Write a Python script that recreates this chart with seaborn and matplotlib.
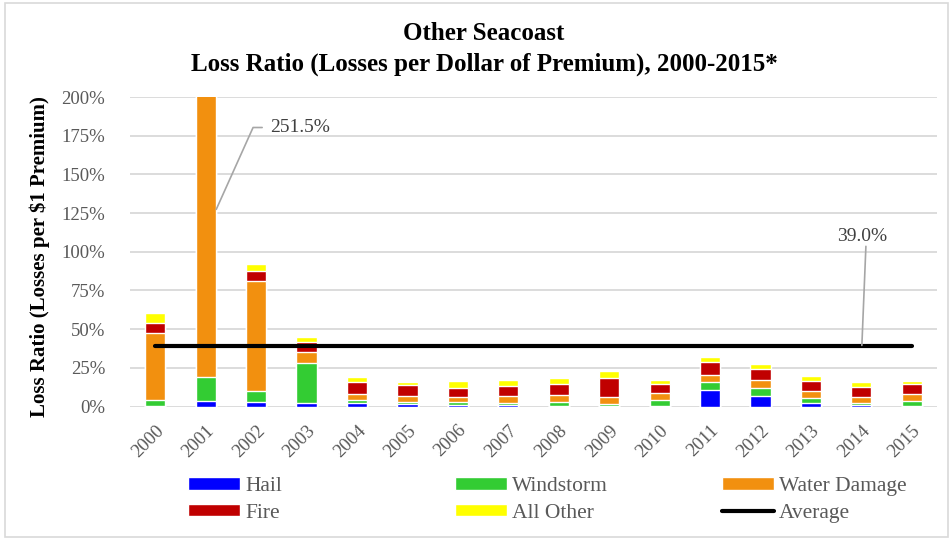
import numpy as np
import matplotlib
matplotlib.use("Agg")
import matplotlib.pyplot as plt
from matplotlib.patches import Patch, Rectangle
from matplotlib.lines import Line2D
from matplotlib.ticker import FuncFormatter
import seaborn as sns

# loss ratio components, in percent of premium
years = [str(y) for y in range(2000, 2016)]
hail = [0.2, 3.7, 3.1, 2.1, 2.5, 1.8, 1.2, 1.0, 0.1, 0.1, 0.1, 10.8, 7.0, 2.5, 1.2, 0.1]
windstorm = [4.0, 15.5, 7.1, 26.2, 1.7, 1.1, 1.7, 1.3, 3.0, 1.7, 3.9, 5.2, 5.1, 3.2, 1.1, 3.6]
water_damage = [43.5, 226.3, 70.8, 7.1, 4.1, 3.9, 3.2, 4.7, 4.3, 4.3, 4.5, 4.5, 5.0, 4.3, 4.0, 4.6]
fire = [6.5, 4.0, 6.4, 6.4, 7.7, 7.1, 5.8, 6.4, 7.3, 12.5, 6.0, 8.4, 7.3, 6.6, 6.1, 6.0]
all_other = [6.0, 2.0, 4.5, 3.0, 3.2, 1.9, 4.6, 3.7, 3.5, 4.3, 2.8, 3.2, 3.0, 3.3, 3.2, 2.0]
average = 39.0
peak_label = "251.5%"
avg_label = "39.0%"

layers = [("Hail", hail, "#0000FF"),
          ("Windstorm", windstorm, "#33CC33"),
          ("Water Damage", water_damage, "#F2900F"),
          ("Fire", fire, "#C00000"),
          ("All Other", all_other, "#FFFF00")]

sns.set_theme(style="white")
plt.rcParams["font.family"] = ["Liberation Serif", "DejaVu Serif"]
GREY = "#595959"

fig = plt.figure(figsize=(9.51, 5.39), dpi=100)
fig.patches.append(Rectangle((5 / 951, 2 / 539), 943 / 951, 534 / 539, transform=fig.transFigure,
                             fill=False, edgecolor="#D9D9D9", linewidth=1.2))
ax = fig.add_axes([0.1367, 0.2458, 0.8486, 0.5742])

# stacked bars: draw cumulative tops from the tallest down
cum = np.zeros(len(years))
tops = []
for name, vals, color in layers:
    cum = cum + np.array(vals)
    tops.append((name, cum.copy(), color))
for name, top, color in reversed(tops):
    sns.barplot(x=years, y=top, color=color, width=0.4, saturation=1,
                errorbar=None, ax=ax, zorder=3)

sns.lineplot(x=np.arange(len(years)), y=[average] * len(years), color="black",
             linewidth=3, ax=ax, zorder=4)

ax.set_xlim(-0.5, len(years) - 0.5)
ax.set_ylim(0, 200)
ax.set_yticks(np.arange(0, 201, 25))
ax.yaxis.set_major_formatter(FuncFormatter(lambda v, _: f"{v:.0f}%"))
ax.grid(axis="y", color="#D9D9D9", linewidth=1.3, zorder=0)
ax.set_axisbelow(True)
sns.despine(ax=ax, left=True, top=True, right=True, bottom=True)
ax.tick_params(axis="both", length=0, colors=GREY, labelsize=13.5)
ax.tick_params(axis="y", pad=18)
ax.tick_params(axis="x", pad=11)
plt.setp(ax.get_xticklabels(), rotation=45, ha="right", rotation_mode="anchor")
ax.set_xlabel("")
ax.set_ylabel("")

# data labels with leader lines
ax.plot([1.21, 1.94, 2.12], [127.4, 180.3, 180.3], color="#A6A6A6", linewidth=1.2, zorder=5)
ax.text(2.28, 180.3, peak_label, color="#404040", fontsize=14, va="center", ha="left")
ax.plot([14.09, 14.01], [103.5, 39.5], color="#A6A6A6", linewidth=1.2, zorder=5)
ax.text(14.02, 110, avg_label, color="#404040", fontsize=14, va="center", ha="center")

fig.text(484 / 951, 1 - 34 / 539, "Other Seacoast", ha="center", va="center",
         fontsize=18, fontweight="bold", color="black")
fig.text(484 / 951, 1 - 64 / 539, "Loss Ratio (Losses per Dollar of Premium), 2000-2015*",
         ha="center", va="center", fontsize=18, fontweight="bold", color="black")
fig.text(40 / 951, 1 - 257 / 539, "Loss Ratio (Losses per $1 Premium)", rotation=90,
         ha="center", va="center", fontsize=15, fontweight="bold", color="black")

# legend: three columns placed separately
handles = {name: Patch(facecolor=color) for name, _, color in layers}
handles["Average"] = Line2D([], [], color="black", linewidth=3)
columns = [(["Hail", "Fire"], 188), (["Windstorm", "All Other"], 455), (["Water Damage", "Average"], 722)]
for names, x0 in columns:
    leg = fig.legend([handles[n] for n in names], names, loc="center left",
                     bbox_to_anchor=(x0 / 951, 1 - 500 / 539), frameon=False,
                     fontsize=15.5, handlelength=2.4, handleheight=0.5,
                     handletextpad=0.25, labelspacing=0.35, borderaxespad=0, borderpad=0)
    for t in leg.get_texts():
        t.set_color(GREY)

fig.savefig("out.png", dpi=100)
